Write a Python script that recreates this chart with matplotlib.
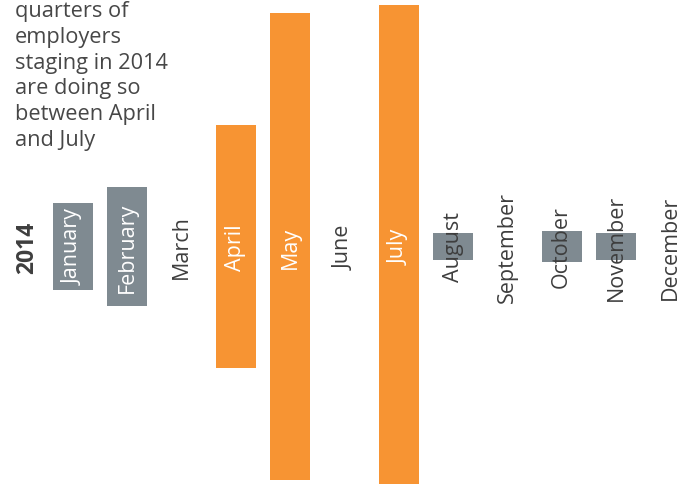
import matplotlib
matplotlib.use("Agg")
import matplotlib.pyplot as plt

# Share of employers staging in each month of 2014 (%)
months = ["January", "February", "March", "April", "May", "June",
          "July", "August", "September", "October", "November", "December"]
share = [5.9, 8.0, 0.0, 16.4, 31.5, 0.0, 32.6, 1.8, 0.0, 2.1, 1.8, 0.0]
peak_months = ["April", "May", "June", "July"]
year_label = "2014"
caption_lines = ["quarters of", "employers", "staging in 2014",
                 "are doing so", "between April", "and July"]

ORANGE = "#F79433"
GREY = "#7F8A91"
DARK = "#3E3E3E"
FONT = "Open Sans"

W, H, DPI = 694, 485, 100
fig = plt.figure(figsize=(W / DPI, H / DPI), dpi=DPI)
ax = fig.add_axes([0, 0, 1, 1])

# pixel geometry of the month strip
x0_px, step_px, width_px = 73.0, 54.3, 40.0
mid_px, px_per_unit = 247.5, 14.8

x = list(range(len(months)))
colors = [ORANGE if m in peak_months else GREY for m in months]
ax.bar(x, share, bottom=[-v / 2 for v in share], width=width_px / step_px,
       color=colors, linewidth=0)

ax.set_xlim(-x0_px / step_px, (W - x0_px) / step_px)
ax.set_ylim(-(H - mid_px) / px_per_unit, mid_px / px_per_unit)
ax.axis("off")

for i, (m, v) in enumerate(zip(months, share)):
    inside = v >= 5
    ax.text(i, 0, m, rotation=90, ha="center", va="center",
            color="white" if inside else DARK, fontsize=15.5,
            family=FONT)

ax.text(-45.5 / step_px, 0, year_label, rotation=90, ha="center",
        va="center", color=DARK, fontsize=16.5, fontweight="bold",
        family=FONT)

# caption in the top-left corner, partly running off the top edge
for k, line in enumerate(caption_lines):
    y_px = 17 + 25.8 * k
    fig.text(15 / W, 1 - y_px / H, line, ha="left", va="baseline",
             color="#474747", fontsize=15.7, family=FONT)

fig.savefig("out.png", dpi=DPI)
